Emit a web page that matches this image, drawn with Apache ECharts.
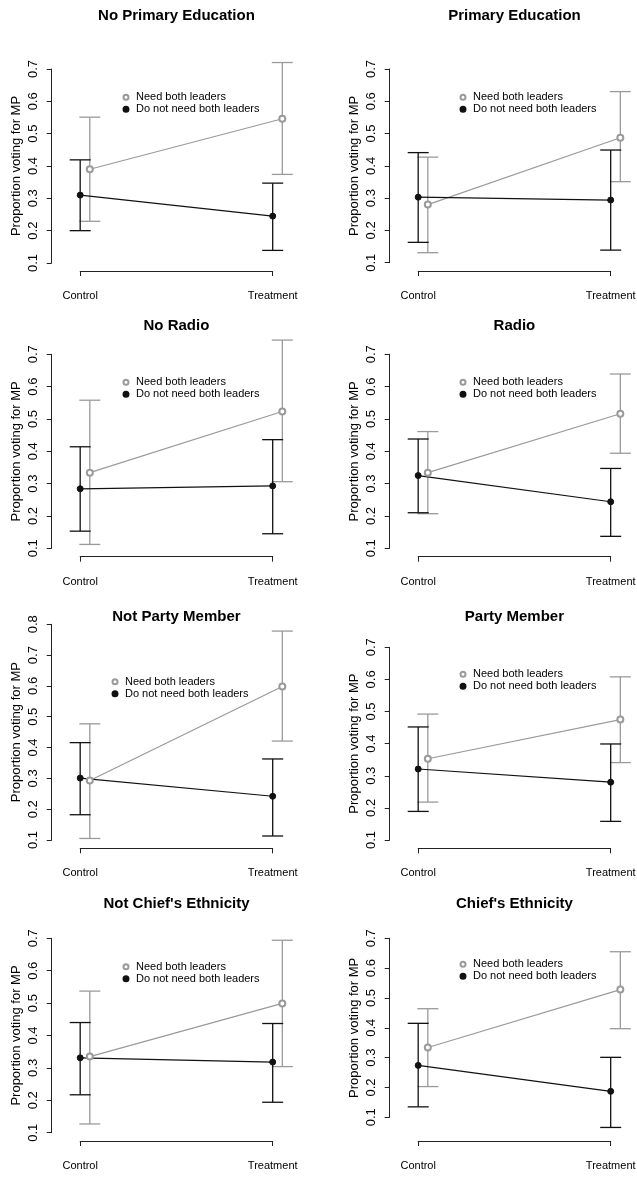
<!DOCTYPE html>
<html><head><meta charset="utf-8">
<script src="https://cdn.jsdelivr.net/npm/echarts@6/dist/echarts.min.js"></script>
<style>html,body{margin:0;padding:0;background:#fff}#c{width:637px;height:1190px}</style>
</head><body><div id="c"></div>
<script>
// ---------------- data ----------------
const panelTitles = ['No Primary Education', 'Primary Education', 'No Radio', 'Radio',
  'Not Party Member', 'Party Member', "Not Chief's Ethnicity", "Chief's Ethnicity"];
const categories = ['Control', 'Treatment'];
const groupNames = ['Need both leaders', 'Do not need both leaders'];
const yAxisName = 'Proportion voting for MP';
const yTickMin = 0.1;
const yTickStep = 0.1;
const yTickMax = [0.7, 0.7, 0.7, 0.7, 0.8, 0.7, 0.7, 0.7];

// "Need both leaders": [Control, Treatment]
const needEst  = [[0.390, 0.546], [0.280, 0.487], [0.334, 0.523], [0.334, 0.516], [0.293, 0.598], [0.353, 0.475], [0.335, 0.499], [0.334, 0.528]];
const needLow  = [[0.229, 0.374], [0.131, 0.351], [0.112, 0.306], [0.207, 0.394], [0.105, 0.421], [0.218, 0.341], [0.127, 0.304], [0.203, 0.397]];
const needHigh = [[0.551, 0.720], [0.427, 0.630], [0.558, 0.744], [0.461, 0.639], [0.477, 0.778], [0.492, 0.608], [0.537, 0.694], [0.464, 0.655]];
// "Do not need both leaders": [Control, Treatment]
const notEst   = [[0.310, 0.245], [0.303, 0.294], [0.284, 0.293], [0.325, 0.244], [0.301, 0.242], [0.321, 0.280], [0.331, 0.318], [0.274, 0.187]];
const notLow   = [[0.200, 0.139], [0.163, 0.139], [0.153, 0.145], [0.210, 0.137], [0.182, 0.113], [0.189, 0.158], [0.217, 0.194], [0.135, 0.066]];
const notHigh  = [[0.419, 0.347], [0.441, 0.449], [0.414, 0.436], [0.438, 0.347], [0.416, 0.363], [0.452, 0.399], [0.440, 0.437], [0.415, 0.301]];

// ---------------- layout / style ----------------
const FONT = '"Liberation Sans", Arial, Helvetica, sans-serif';
const GRAY = '#9a9a9a';
const BLACK = '#111111';
const AXIS = '#222222';
const colAxisX = [51.7, 389.7];
const pxPerUnit = 192.5;
const X_MIN = 0.852, X_MAX = 2.148;
const DODGE = [0.05, 0];           // gray series drawn slightly right of black
const plotTop    = [69, 69, 354.3, 354.3, 624.3, 647.3, 938.3, 938.3];
const plotBottom = [263, 262.7, 548.3, 548.3, 840, 840, 1132.7, 1117.3];
const bracketY   = [271, 271, 556.7, 556.7, 848.3, 848.3, 1141, 1141];
const titleY     = [15, 15, 325, 325, 616, 616, 902.5, 903.3];
const legendPos  = [[122.5, 91.3], [459.5, 91.3], [122.5, 376.3], [459.5, 376.3],
                    [111.5, 675.7], [459.5, 668.3], [122.5, 960.7], [459.5, 958.3]];

const grids = [], xAxes = [], yAxes = [], series = [], titles = [], legends = [];

function errorBarRenderer(color) {
  return function (params, api) {
    const x = api.value(0), lo = api.value(1), hi = api.value(2);
    const pLo = api.coord([x, lo]);
    const pHi = api.coord([x, hi]);
    const cw = 10.5;
    const st = { stroke: color, lineWidth: 1.3, fill: null };
    return {
      type: 'group',
      children: [
        { type: 'line', shape: { x1: pLo[0], y1: pLo[1], x2: pHi[0], y2: pHi[1] }, style: st },
        { type: 'line', shape: { x1: pLo[0] - cw, y1: pLo[1], x2: pLo[0] + cw, y2: pLo[1] }, style: st },
        { type: 'line', shape: { x1: pHi[0] - cw, y1: pHi[1], x2: pHi[0] + cw, y2: pHi[1] }, style: st }
      ]
    };
  };
}

for (let i = 0; i < 8; i++) {
  const col = i % 2;
  const ax = colAxisX[col];
  const plotW = (X_MAX - X_MIN) * pxPerUnit;
  const gMain = 2 * i, gBr = 2 * i + 1;

  grids.push({ left: ax, top: plotTop[i], width: plotW, height: plotBottom[i] - plotTop[i], outerBoundsMode: 'none', containLabel: false });
  grids.push({ left: ax + (1 - X_MIN) * pxPerUnit, top: bracketY[i] - 1, width: pxPerUnit, height: 1, outerBoundsMode: 'none', containLabel: false });

  xAxes.push({ gridIndex: gMain, type: 'value', min: X_MIN, max: X_MAX, show: false });
  xAxes.push({
    gridIndex: gBr, type: 'category', data: categories, boundaryGap: false, position: 'bottom',
    axisLine: { show: true, lineStyle: { color: AXIS, width: 1 } },
    axisTick: { show: true, length: 5, alignWithLabel: true, lineStyle: { color: AXIS, width: 1 } },
    axisLabel: { show: true, interval: 0, margin: 19.5, fontSize: 11, color: '#000', fontFamily: FONT },
    splitLine: { show: false }
  });

  yAxes.push({
    gridIndex: gMain, type: 'value', min: yTickMin, max: yTickMax[i], interval: yTickStep,
    axisLine: { show: true, lineStyle: { color: AXIS, width: 1 } },
    axisTick: { show: true, length: 5, lineStyle: { color: AXIS, width: 1 } },
    axisLabel: { rotate: 90, margin: 11.5, fontSize: 13, color: '#000', fontFamily: FONT,
      formatter: v => v.toFixed(1) },
    splitLine: { show: false },
    name: yAxisName, nameLocation: 'middle', nameGap: 29,
    nameTextStyle: { fontSize: 13, color: '#000', fontFamily: FONT }
  });
  yAxes.push({ gridIndex: gBr, type: 'value', show: false });

  titles.push({
    text: panelTitles[i], left: ax + plotW / 2, top: titleY[i] - 6.5, textAlign: 'center', padding: 0,
    textStyle: { fontSize: 15, fontWeight: 'bold', color: '#000', fontFamily: FONT }
  });

  legends.push({
    left: legendPos[i][0], top: legendPos[i][1], orient: 'vertical', itemGap: 0,
    itemWidth: 10, itemHeight: 5, padding: 0, selectedMode: false,
    textStyle: { fontSize: 11, lineHeight: 12, color: '#000', fontFamily: FONT },
    data: [
      { name: groupNames[0], icon: 'emptyCircle', itemStyle: { color: GRAY, borderColor: GRAY, borderWidth: 1 } },
      { name: groupNames[1], icon: 'circle', itemStyle: { color: BLACK } }
    ]
  });

  const groups = [
    { est: needEst[i], low: needLow[i], high: needHigh[i], color: GRAY, symbol: 'emptyCircle', dodge: DODGE[0] },
    { est: notEst[i], low: notLow[i], high: notHigh[i], color: BLACK, symbol: 'circle', dodge: DODGE[1] }
  ];
  groups.forEach((g, gi) => {
    const xs = categories.map((c, k) => k + 1 + g.dodge);
    series.push({
      type: 'custom', name: 'ci-' + i + '-' + gi, xAxisIndex: gMain, yAxisIndex: gMain,
      clip: false, silent: true, z: 2,
      encode: { x: 0, y: [1, 2] },
      data: xs.map((x, k) => [x, g.low[k], g.high[k]]),
      renderItem: errorBarRenderer(g.color)
    });
    series.push({
      type: 'line', name: groupNames[gi], xAxisIndex: gMain, yAxisIndex: gMain,
      clip: false, silent: true, z: 3,
      data: xs.map((x, k) => [x, g.est[k]]),
      symbol: g.symbol, symbolSize: 6, showSymbol: true,
      lineStyle: { color: g.color, width: 1.2 },
      itemStyle: { color: g.color, borderColor: g.color, borderWidth: 1 }
    });
  });
}

const chart = echarts.init(document.getElementById('c'), null, { renderer: 'canvas' });
chart.setOption({
  animation: false,
  backgroundColor: '#ffffff',
  textStyle: { fontFamily: FONT },
  title: titles,
  legend: legends,
  grid: grids,
  xAxis: xAxes,
  yAxis: yAxes,
  series: series
});
</script>
</body></html>
